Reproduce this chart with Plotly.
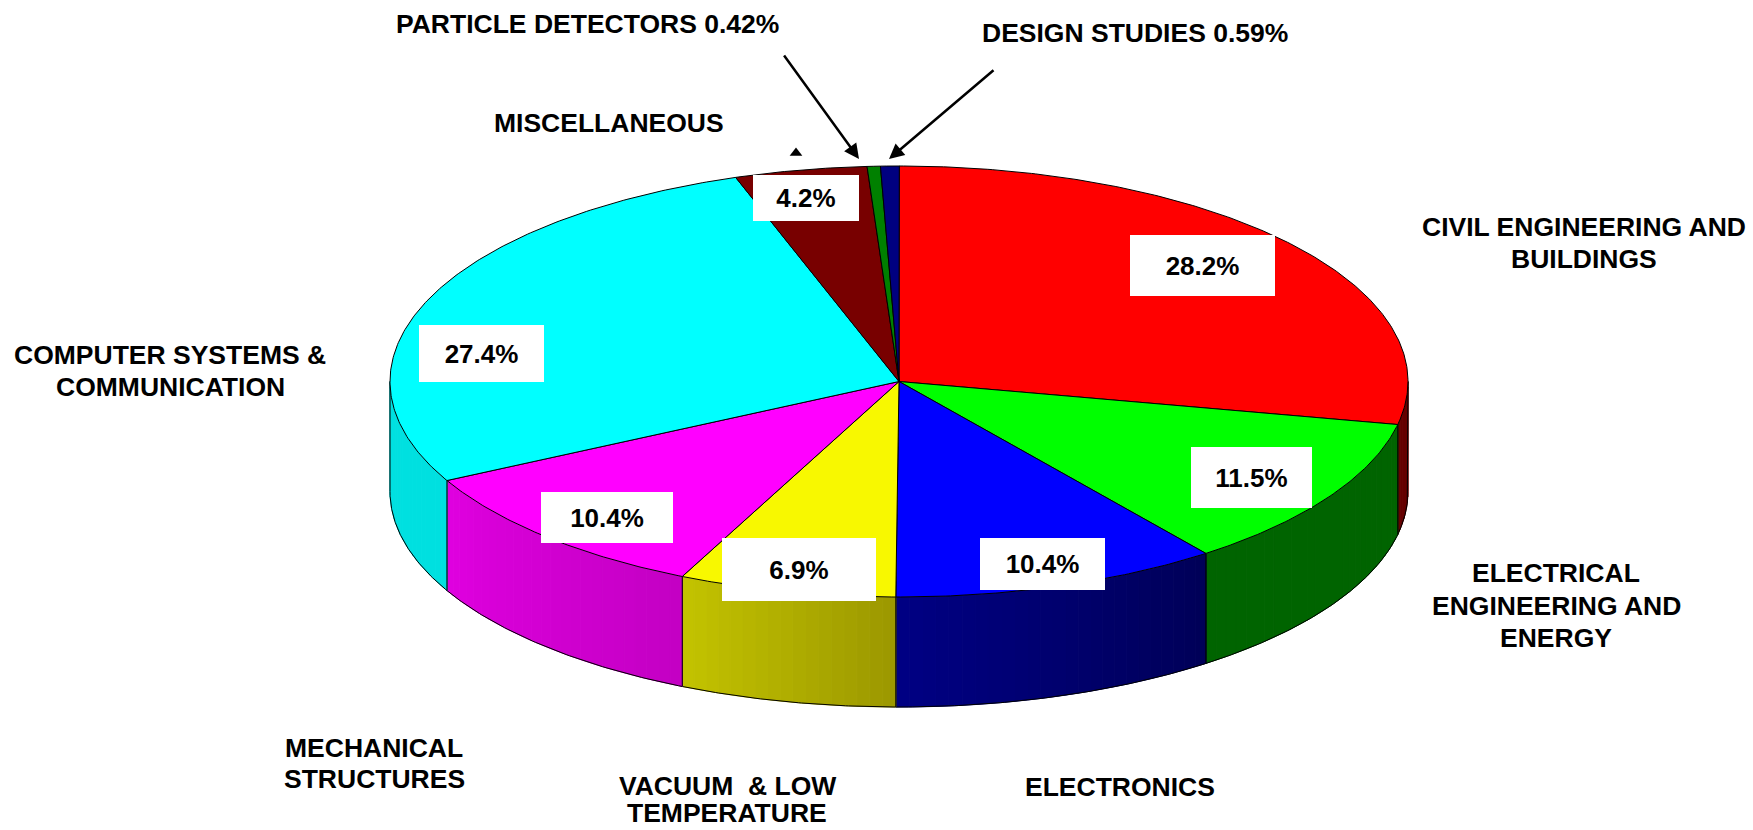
import numpy as np
import plotly.graph_objects as go

# ---- data ----
slice_names = ["CIVIL ENGINEERING AND BUILDINGS", "ELECTRICAL ENGINEERING AND ENERGY", "ELECTRONICS",
               "VACUUM & LOW TEMPERATURE", "MECHANICAL STRUCTURES", "COMPUTER SYSTEMS & COMMUNICATION",
               "MISCELLANEOUS", "PARTICLE DETECTORS", "DESIGN STUDIES"]
slice_values = [28.2, 11.5, 10.4, 6.9, 10.4, 27.4, 4.2, 0.42, 0.59]
value_labels = ["28.2%", "11.5%", "10.4%", "6.9%", "10.4%", "27.4%", "4.2%", None, None]

# ---- styles ----
top_colors = ["#ff0000", "#00ff00", "#0000ff", "#f8f800", "#ff00ff", "#00ffff", "#780000", "#008000", "#000080"]
wall_start = ["#660000", "#006400", "#000058", "#9c9800", "#c400c4", "#00e0e0", "#600000", "#006000", "#000060"]
wall_end = ["#660000", "#006400", "#000084", "#c4c400", "#e000e0", "#00e0e0", "#600000", "#006000", "#000060"]
# pixel-space layout
CX, CY, RX, RY, DEPTH = 899, 381.5, 509, 215.5, 110

box_geom = [(1130, 1275, 235, 296), (1191, 1312, 447, 508), (980, 1105, 538, 590), (722, 876, 538, 601),
            (541, 673, 492, 543), (419, 544, 325, 382), (753, 859, 175, 221), None, None]
label_lines = [
    ("PARTICLE DETECTORS 0.42%", 587, 24), ("DESIGN STUDIES 0.59%", 1135, 33), ("MISCELLANEOUS", 609, 123),
    ("CIVIL ENGINEERING AND", 1584, 227), ("BUILDINGS", 1584, 259),
    ("COMPUTER SYSTEMS &", 170, 355), ("COMMUNICATION", 170, 387),
    ("ELECTRICAL", 1556, 573), ("ENGINEERING AND", 1556, 606), ("ENERGY", 1556, 638),
    ("MECHANICAL", 374, 748), ("STRUCTURES", 374, 779),
    ("VACUUM  & LOW", 727, 786), ("TEMPERATURE", 727, 813), ("ELECTRONICS", 1120, 787),
]
arrows = [(783, 54, 859, 159), (995, 69, 889, 159)]
FONT = "Liberation Sans, Arial, sans-serif"


def ex(t):
    return CX + RX * np.sin(np.radians(t))


def ey(t):
    return CY - RY * np.cos(np.radians(t))


def hex2rgb(h):
    return np.array([int(h[i:i + 2], 16) for i in (1, 3, 5)], float)


edges = np.concatenate([[0], np.cumsum(slice_values)]) / 100 * 360
fig = go.Figure()

# side walls (only the near half is visible)
for i, name in enumerate(slice_names):
    a, b = max(edges[i], 90), min(edges[i + 1], 270)
    if a >= b:
        continue
    n = max(2, int((b - a) / 1.5) + 1)
    ts = np.linspace(a, b, n + 1)
    c0, c1 = hex2rgb(wall_start[i]), hex2rgb(wall_end[i])
    for k in range(n):
        f = (k + 0.5) / n
        c = c0 + (c1 - c0) * f
        col = "rgb(%d,%d,%d)" % tuple(c)
        xs = [ex(ts[k]), ex(ts[k + 1]), ex(ts[k + 1]), ex(ts[k]), ex(ts[k])]
        ys = [ey(ts[k]), ey(ts[k + 1]), ey(ts[k + 1]) + DEPTH, ey(ts[k]) + DEPTH, ey(ts[k])]
        fig.add_trace(go.Scatter(x=xs, y=ys, mode="lines", fill="toself", fillcolor=col,
                                 line=dict(color=col, width=1), hoverinfo="skip", showlegend=False))
    arc = np.linspace(a, b, 80)
    xo = [ex(a)] + list(ex(arc)) + [ex(b)]
    yo = [ey(a)] + list(ey(arc) + DEPTH) + [ey(b)]
    fig.add_trace(go.Scatter(x=xo, y=yo, mode="lines", line=dict(color="#000000", width=1),
                             hoverinfo="skip", showlegend=False))

# top surface
for i, name in enumerate(slice_names):
    arc = np.linspace(edges[i], edges[i + 1], max(3, int((edges[i + 1] - edges[i]) * 2)))
    xs = [CX] + list(ex(arc)) + [CX]
    ys = [CY] + list(ey(arc)) + [CY]
    fig.add_trace(go.Scatter(x=xs, y=ys, mode="lines", fill="toself", fillcolor=top_colors[i],
                             line=dict(color="#000000", width=1), name=name,
                             hovertemplate=name + ": %{text}<extra></extra>",
                             text=[f"{slice_values[i]}%"] * len(xs), showlegend=False))

# small stray marker
fig.add_trace(go.Scatter(x=[796], y=[153], mode="markers",
                         marker=dict(symbol="triangle-up", size=11, color="#000000"),
                         hoverinfo="skip", showlegend=False))

ann = []
for lab, g in zip(value_labels, box_geom):
    if lab is None:
        continue
    x0, x1, y0, y1 = g
    ann.append(dict(x=(x0 + x1) / 2, y=(y0 + y1) / 2, xref="x", yref="y", text="<b>%s</b>" % lab,
                    showarrow=False, width=x1 - x0, height=y1 - y0, bgcolor="#ffffff", align="center",
                    valign="middle", borderpad=0, borderwidth=0,
                    font=dict(family=FONT, size=26, color="#000000")))
for txt, x, y in label_lines:
    ann.append(dict(x=x, y=y, xref="x", yref="y", text="<b>%s</b>" % txt.replace("  ", "&nbsp; "),
                    showarrow=False, font=dict(family=FONT, size=26.5, color="#000000")))
for x0, y0, x1, y1 in arrows:
    ann.append(dict(x=x1, y=y1, ax=x0, ay=y0, xref="x", yref="y", axref="x", ayref="y", text="",
                    showarrow=True, arrowhead=2, arrowsize=1.2, arrowwidth=2.5, arrowcolor="#000000"))

fig.update_layout(
    width=1753, height=830, margin=dict(l=0, r=0, t=0, b=0),
    paper_bgcolor="#ffffff", plot_bgcolor="#ffffff", showlegend=False, annotations=ann,
    xaxis=dict(range=[0, 1753], visible=False, fixedrange=True),
    yaxis=dict(range=[830, 0], visible=False, fixedrange=True),
)
fig.write_html("out.html", config=dict(displayModeBar=False),
               post_script="document.body.style.margin='0';document.body.style.overflow='hidden';")
